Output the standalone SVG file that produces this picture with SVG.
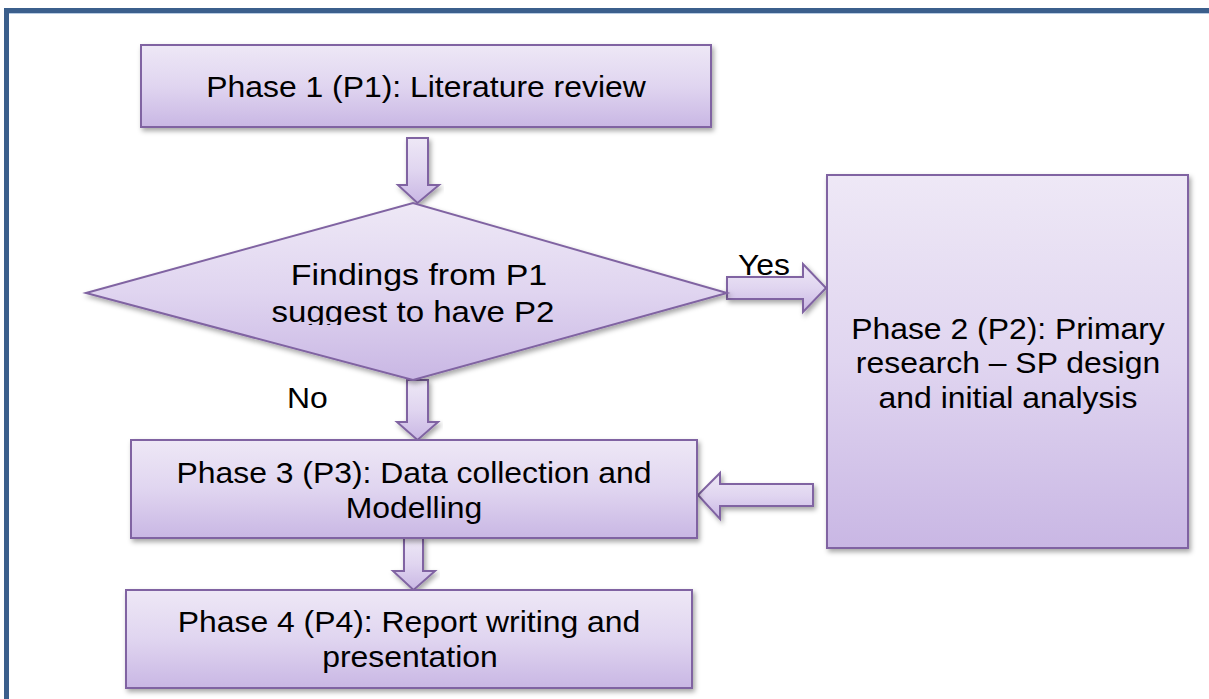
<svg xmlns="http://www.w3.org/2000/svg" width="1209" height="699" viewBox="0 0 1209 699">
<style>
.n{fill:url(#g);stroke:#8064a2;stroke-width:2;filter:url(#sh)}
.a{fill:url(#g);stroke:#8064a2;stroke-width:2;stroke-linejoin:miter;filter:url(#sh)}
text{font-family:"Liberation Sans",Arial,sans-serif;font-size:29px;fill:#000}
.c{text-anchor:middle}
</style>
<defs>
<linearGradient id="g" x1="0" y1="0" x2="0" y2="1">
<stop offset="0" stop-color="#eee8f6"/>
<stop offset="0.5" stop-color="#e0d5f0"/>
<stop offset="1" stop-color="#c9b7e4"/>
</linearGradient>
<filter id="sh" x="-10%" y="-10%" width="120%" height="130%">
<feDropShadow dx="2" dy="3" stdDeviation="2.5" flood-color="#000" flood-opacity="0.35"/>
</filter>
<clipPath id="dc"><rect x="80" y="200" width="660" height="125"/></clipPath>
</defs>
<rect x="6.5" y="10.5" width="1220" height="710" fill="#fff" stroke="#3b5f8c" stroke-width="5"/>
<line x1="9" y1="13.5" x2="1209" y2="13.5" stroke="#b8cce4" stroke-width="1"/>
<g id="connectors">
<path class="a" d="M407 138 H428 V185 H439 L417.5 203 L398 185 H407 Z"/>
<path class="a" d="M727 277 H803 V264 L826 288 L803 312 V299 H727 Z"/>
<path class="a" d="M813 484 V506 H720 V519 L698 495 L720 473 V484 Z"/>
<path class="a" d="M407 380 H428 V422 H438 L417.5 440 L397 422 H407 Z"/>
<path class="a" d="M404 538 H423 V571 H435 L413.5 590 L393 571 H404 Z"/>
</g>
<g id="p1">
<rect class="n" x="141" y="45" width="570" height="82"/>
<text class="c" transform="translate(426 97) scale(1.1 1)">Phase 1 (P1): Literature review</text>
</g>
<g id="decision">
<polygon class="n" points="86,293 413,203 727,293 413,380"/>
<g clip-path="url(#dc)">
<text class="c" transform="translate(419 285) scale(1.17 1)">Findings from P1</text>
<text class="c" transform="translate(413 322) scale(1.14 1)">suggest to have P2</text>
</g>
</g>
<g id="p2">
<rect class="n" x="827" y="175" width="361" height="373"/>
<text class="c" transform="translate(1008 339) scale(1.1 1)">Phase 2 (P2): Primary</text>
<text class="c" transform="translate(1008 373) scale(1.1 1)">research – SP design</text>
<text class="c" transform="translate(1008 408) scale(1.1 1)">and initial analysis</text>
</g>
<g id="p3">
<rect class="n" x="131" y="440" width="566" height="98"/>
<text class="c" transform="translate(414 483) scale(1.1 1)">Phase 3 (P3): Data collection and</text>
<text class="c" transform="translate(414 518) scale(1.1 1)">Modelling</text>
</g>
<g id="p4">
<rect class="n" x="126" y="590" width="566" height="98"/>
<text class="c" transform="translate(409 632) scale(1.1 1)">Phase 4 (P4): Report writing and</text>
<text class="c" transform="translate(410 667) scale(1.1 1)">presentation</text>
</g>
<g id="labels">
<text transform="translate(738 275) scale(1.1 1)">Yes</text>
<text transform="translate(287 408) scale(1.1 1)">No</text>
</g>
</svg>
